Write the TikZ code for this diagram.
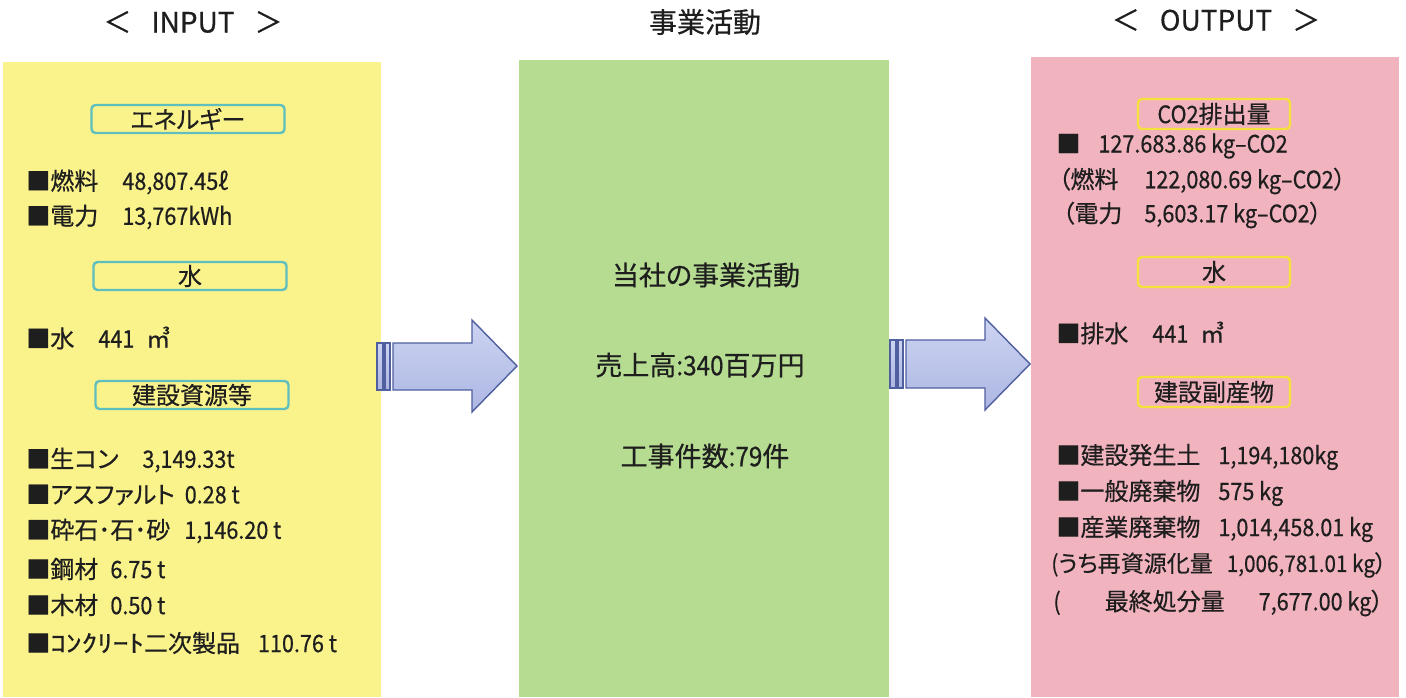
\documentclass[tikz,border=0pt]{standalone}
\usepackage{fontspec}
\usepackage{graphicx}
\setmainfont{Noto Sans CJK JP}[FakeBold=0.5, RawFeature={+palt}]
\newfontfamily\nm{Noto Sans CJK JP}[FakeStretch=0.9, FakeBold=0.5]
\newfontfamily\lat{Noto Sans CJK JP}[FakeBold=0.5]
\newcommand\gp{\hspace{12pt}}
\definecolor{pyellow}{RGB}{250,243,140}
\definecolor{pgreen}{RGB}{182,220,146}
\definecolor{ppink}{RGB}{241,180,190}
\definecolor{tealb}{RGB}{95,190,190}
\definecolor{yelb}{RGB}{245,225,60}
\definecolor{arrowb}{RGB}{80,95,160}
\definecolor{arrowtop}{RGB}{205,212,242}
\definecolor{arrowbot}{RGB}{172,182,226}
\definecolor{txt}{RGB}{30,30,30}
\tikzset{
  every node/.style={font=\fontsize{12}{14}\selectfont, text=txt, inner sep=0pt},
  panel/.style={anchor=north west, inner sep=0pt},
  lbox/.style={draw=tealb, line width=1.2pt, rounded corners=2pt, fill=pyellow, minimum width=96.5pt, minimum height=14pt},
  rbox/.style={draw=yelb, line width=1.2pt, rounded corners=2pt, fill=ppink, minimum width=76pt, minimum height=15pt},
  item/.style={anchor=west},
  hdr/.style={font=\fontsize{14}{16}\selectfont},
  mid/.style={font=\fontsize{13.5}{15}\selectfont},
  blockarrow/.style={draw=arrowb, line width=0.7pt, top color=arrowtop, bottom color=arrowbot, line join=miter},
}
\begin{document}
\begin{tikzpicture}[x=0.5pt,y=-0.5pt]
\useasboundingbox (0,0) rectangle (1406,697);
\fill[white] (0,0) rectangle (1406,697);
% panels
\node[panel, fill=pyellow, minimum width=189pt, minimum height=317.5pt] (pin) at (3,62) {};
\node[panel, fill=pgreen, minimum width=185pt, minimum height=318.5pt] (pmid) at (519,60) {};
\node[panel, fill=ppink, minimum width=184pt, minimum height=320pt] (pout) at (1031,57) {};
% headers
\node[hdr] (hin) at (193,22) {＜\hspace{10pt}{\lat INPUT}\hspace{10pt}＞};
\node[hdr] (hmid) at (705,22) {事業活動};
\node[hdr] (hout) at (1216,20) {＜\hspace{10pt}{\lat OUTPUT}\hspace{10pt}＞};
% left boxes
\node[lbox] (benergy) at (188,119) {エネルギー};
\node[lbox] (bwater) at (190,276) {水};
\node[lbox] (bres) at (192,395) {建設資源等};
% left items
\node[item] (i1) at (26,182) {■燃料\gp{\nm 48,807.45ℓ}};
\node[item] (i2) at (26,217) {■電力\gp{\nm 13,767kWh}};
\node[item] (i3) at (26,338) {■水\gp{\nm 441}\hspace{6pt}㎥};
\node[item] (i4) at (26,460) {■生コン\gp{\nm 3,149.33t}};
\node[item] (i5) at (26,495) {■アスファルト\hspace{5pt}{\nm 0.28 t}};
\node[item] (i6) at (26,531) {■砕石･石･砂\hspace{7pt}{\nm 1,146.20 t}};
\node[item] (i7) at (26,569) {■鋼材\hspace{6pt}{\nm 6.75 t}};
\node[item] (i8) at (26,605) {■木材\hspace{6pt}{\nm 0.50 t}};
\node[item] (i9) at (26,643) {■\scalebox{1.3}[1]{ｺﾝｸﾘｰﾄ}二次製品\hspace{9pt}{\nm 110.76 t}};
% middle
\node[mid] (m1) at (706,275) {当社の事業活動};
\node[mid] (m2) at (700,365) {売上高{\nm :340}百万円};
\node[mid] (m3) at (705,456) {工事件数{\nm :79}件};
% right boxes
\node[rbox] (bco2) at (1214,114) {{\nm CO2}排出量};
\node[rbox] (bwater2) at (1214,272) {水};
\node[rbox] (bby) at (1214,392) {建設副産物};
% right items
\node[item] (o1) at (1056,146) {■\hspace{9pt}{\nm 127.683.86 kg–CO2}};
\node[item] (o2) at (1058,181) {（燃料\hspace{13pt}{\nm 122,080.69 kg–CO2}）};
\node[item] (o3) at (1062,215) {（電力\hspace{11pt}{\nm 5,603.17 kg–CO2}）};
\node[item] (o4) at (1056,333) {■排水\gp{\nm 441}\hspace{6pt}㎥};
\node[item] (o5) at (1056,457) {■建設発生土\hspace{9pt}{\nm 1,194,180kg}};
\node[item] (o6) at (1056,493) {■一般廃棄物\hspace{9pt}{\nm 575 kg}};
\node[item] (o7) at (1056,529) {■産業廃棄物\hspace{9pt}{\nm 1,014,458.01 kg}};
\node[item, font=\fontsize{11.5}{13}\selectfont] (o8) at (1051,565) {{\nm (}うち再資源化量\hspace{7pt}{\nm 1,006,781.01 kg}）};
\node[item] (o9) at (1053,603) {{\nm (}\hspace{22pt}最終処分量\hspace{17pt}{\nm 7,677.00 kg}）};
% arrows
\draw[blockarrow] (377,343) rectangle (383,390);
\draw[blockarrow] (385,343) rectangle (390,390);
\draw[blockarrow] (393,343) -- (472,343) -- (472,320) -- (517,366) -- (472,412) -- (472,390) -- (393,390) -- cycle;
\draw[blockarrow] (890,340) rectangle (896,388);
\draw[blockarrow] (898,340) rectangle (903,388);
\draw[blockarrow] (906,340) -- (985,340) -- (985,318) -- (1030,364) -- (985,410) -- (985,388) -- (906,388) -- cycle;
\end{tikzpicture}
\end{document}
